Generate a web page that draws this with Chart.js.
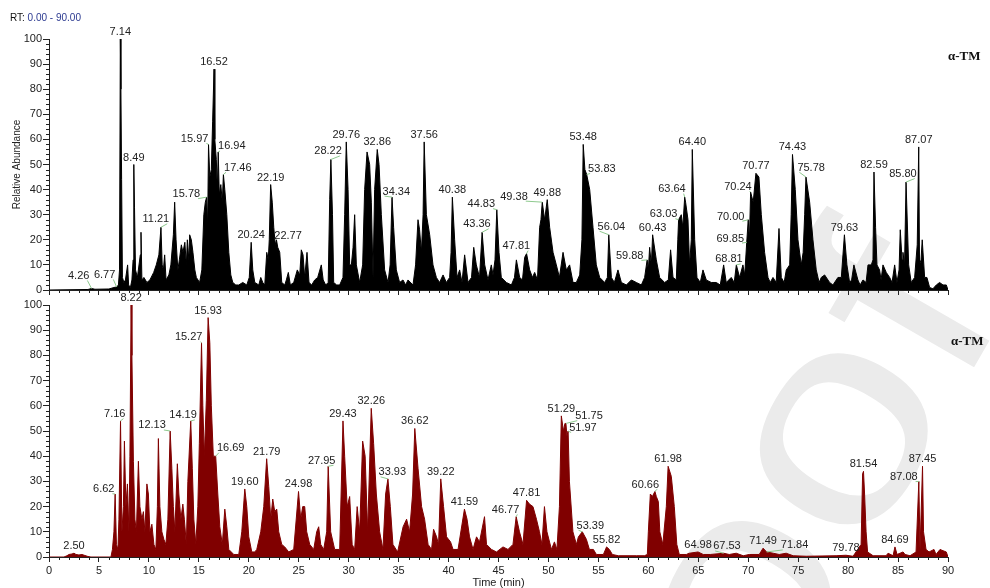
<!DOCTYPE html>
<html>
<head>
<meta charset="utf-8">
<title>RT chromatograms</title>
<script src="https://cdn.jsdelivr.net/npm/chart.js@4.4.1/dist/chart.umd.min.js"></script>
<style>
  html, body { margin: 0; padding: 0; background: #fff; }
  #page { position: relative; width: 990px; height: 588px; overflow: hidden; font-family: "Liberation Sans", Arial, sans-serif; }
  #page canvas { position: absolute; left: 0; }
  #mark { top: 0; z-index: 0; }
  #topChart { top: 0; z-index: 1; }
  #bottomChart { top: 290px; z-index: 2; }
  .rt { position: absolute; left: 10px; top: 12px; font-size: 10px; line-height: 12px; color: #111; z-index: 3; }
  .rt span { color: #2b3990; }
  .tag { position: absolute; font: bold 13px/13px "Liberation Serif", "Times New Roman", serif; color: #111; z-index: 3; }
</style>
</head>
<body>
<div id="page">
  <canvas id="mark" width="990" height="588"></canvas>
  <canvas id="topChart" width="990" height="300"></canvas>
  <canvas id="bottomChart" width="990" height="298"></canvas>
  <div class="rt">RT: <span>0.00 - 90.00</span></div>
  <div class="tag" style="left:948px; top:49px;">α-TM</div>
  <div class="tag" style="left:951px; top:334px;">α-TM</div>
</div>
<script>
// retention time (min), relative abundance (%)
const topTrace = [
  [0,0],[3.9,0.2],[4.26,0.6],[4.6,0.3],[6.0,0.4],[6.5,1],[6.77,1.2],[6.95,2],[7.06,8],[7.14,100],[7.2,80],[7.27,44],[7.35,5],
  [7.5,3],[7.65,4],[7.87,10],[7.97,2],[8.15,1],[8.3,4],[8.42,12],[8.49,50],[8.56,33],[8.66,8],[8.85,5],[9.14,14],[9.21,23],
  [9.3,4],[9.5,5],[9.8,3],[10.1,4],[10.48,7],[10.74,10],[11.0,14],[11.21,25],[11.33,10],[11.45,8],[11.58,14],[11.72,4],
  [12.0,6],[12.2,10],[12.45,22],[12.58,35],[12.72,20],[12.9,8],[13.05,12],[13.25,18],[13.41,15],[13.6,19],[13.75,10],
  [13.85,20],[14.0,12],[14.08,22],[14.25,20],[14.41,15],[14.6,8],[14.75,5],[15.08,3],[15.3,8],[15.5,30],[15.65,35],
  [15.78,37],[15.88,25],[15.97,58],[16.1,45],[16.25,48],[16.38,67],[16.52,88],[16.6,60],[16.75,52],[16.85,40],[16.94,55],
  [17.05,38],[17.2,42],[17.35,35],[17.46,46],[17.6,40],[17.8,30],[18.0,15],[18.2,6],[18.4,3],[18.7,2],[19.0,2],[19.4,3],
  [19.8,2],[20.05,5],[20.24,19],[20.4,8],[20.6,3],[21.0,2],[21.2,5],[21.4,3],[21.6,2],[21.8,15],[21.95,12],[22.05,20],
  [22.19,42],[22.35,35],[22.5,25],[22.65,18],[22.77,20],[22.9,17],[23.1,15],[23.3,3],[23.6,2],[23.76,4],[23.96,7],[24.16,2],
  [24.5,3],[24.86,8],[25.1,6],[25.26,16],[25.43,14],[25.6,5],[25.83,15],[26.03,3],[26.3,2],[26.6,4],[26.9,5],[27.26,10],
  [27.45,4],[27.7,2],[27.95,3],[28.1,36],[28.22,52],[28.38,30],[28.5,3],[28.8,2],[29.1,2],[29.43,5],[29.6,30],[29.76,59],
  [29.94,40],[30.1,10],[30.27,10],[30.44,17],[30.6,30],[30.77,10],[31.1,3],[31.4,10],[31.6,40],[31.84,55],[32.1,50],
  [32.27,35],[32.44,5],[32.6,40],[32.86,56],[33.04,50],[33.27,30],[33.6,8],[33.94,3],[34.15,10],[34.34,37],[34.5,25],
  [34.77,8],[35.1,3],[35.44,4],[35.7,2],[35.94,4],[36.44,2],[36.7,10],[36.94,28],[37.1,24],[37.28,15],[37.45,30],[37.56,59],
  [37.78,30],[38.11,22],[38.44,10],[38.78,5],[39.1,3],[39.45,6],[39.78,3],[40.11,5],[40.25,15],[40.38,37],[40.61,20],
  [40.85,5],[41.11,8],[41.35,3],[41.61,14],[41.95,3],[42.3,5],[42.52,17],[42.78,10],[43.1,5],[43.36,23],[43.62,10],
  [43.95,4],[44.28,10],[44.45,6],[44.65,12],[44.83,32],[45.05,15],[45.28,5],[45.79,3],[46.29,2],[46.6,5],[46.79,12],
  [47.12,5],[47.4,4],[47.62,13],[47.81,14.5],[48.12,8],[48.4,5],[48.62,7],[48.9,4],[49.12,25],[49.25,28],[49.38,35],
  [49.62,28],[49.88,36],[50.12,25],[50.46,15],[50.79,10],[51.1,5],[51.46,15],[51.79,8],[52.12,10],[52.46,3],[52.79,3],
  [53.13,6],[53.35,20],[53.48,58],[53.65,48],[53.83,46],[54.13,40],[54.46,25],[54.79,10],[55.13,5],[55.63,3],[55.9,5],
  [56.04,22],[56.3,5],[56.6,3],[56.96,8],[57.3,3],[57.8,2],[58.3,4],[58.8,3],[59.3,2],[59.63,5],[59.88,12],[60.0,8],
  [60.13,17],[60.3,10],[60.43,22],[60.8,12],[61.13,5],[61.63,3],[62.0,4],[62.23,16],[62.47,5],[62.8,4],[62.95,20],
  [63.03,28],[63.3,30],[63.45,25],[63.64,37],[63.73,35],[63.97,28],[64.13,10],[64.3,20],[64.40,56],[64.64,20],[64.87,5],
  [65.2,3],[65.47,8],[65.8,4],[66.3,3],[66.8,3],[67.2,2],[67.54,10],[67.8,3],[68.3,5],[68.6,3],[68.81,10],[69.14,5],
  [69.47,10],[69.65,6],[69.85,19],[70.00,28],[70.12,20],[70.24,39],[70.5,35],[70.77,46.5],[71.07,45],[71.31,30],[71.64,15],
  [71.98,5],[72.2,3],[72.48,5],[72.8,3],[73.08,24.5],[73.31,5],[73.6,3],[73.81,8],[74.15,10],[74.3,30],[74.43,54],
  [74.71,40],[74.98,20],[75.31,10],[75.5,15],[75.65,30],[75.78,45],[76.15,35],[76.48,20],[76.81,8],[77.1,3],[77.31,5],
  [77.65,6],[78.15,3],[78.48,2],[78.98,5],[79.32,5],[79.63,22],[79.88,10],[80.15,3],[80.35,4],[80.58,10],[80.98,4],
  [81.2,2],[81.49,4],[81.8,3],[81.99,10],[82.32,10],[82.49,12],[82.59,47],[82.75,25],[82.89,10],[83.15,8],[83.3,4],
  [83.49,10],[83.82,7],[84.16,5],[84.4,3],[84.66,10],[84.89,3],[85.1,8],[85.22,24],[85.4,12],[85.49,15],[85.65,10],
  [85.80,43],[86.06,10],[86.32,3],[86.66,5],[86.92,18],[87.07,57],[87.15,10],[87.3,12],[87.42,20],[87.66,5],[87.89,5],
  [88.16,1],[88.49,0.5],[88.83,2],[89.16,3],[89.5,2],[89.83,2],[90,0]
];

const bottomTrace = [
  [0,0],[1.5,0],[1.8,0.5],[2.0,1],[2.3,1.2],[2.5,1.5],[2.7,1],[3.0,0.8],[3.3,1],[3.6,0.6],[3.9,0.2],[4.2,0],[6.2,0],
  [6.35,3],[6.5,10],[6.62,25],[6.75,5],[6.9,3],[7.0,15],[7.16,54],[7.3,10],[7.45,20],[7.55,46],[7.7,20],[7.85,29],[8.0,10],
  [8.1,40],[8.22,100],[8.3,80],[8.45,38],[8.6,15],[8.75,10],[8.95,38],[9.1,20],[9.3,15],[9.45,18],[9.6,10],[9.8,29],
  [9.95,25],[10.1,10],[10.3,13],[10.5,5],[10.7,3],[10.85,20],[10.95,47],[11.1,20],[11.3,10],[11.5,7],[11.7,5],[11.9,15],
  [12.13,50],[12.3,35],[12.45,20],[12.6,10],[12.85,37],[13.0,25],[13.2,15],[13.4,21],[13.55,15],[13.75,5],[13.9,30],
  [14.19,54],[14.35,35],[14.5,15],[14.7,5],[14.9,20],[15.05,45],[15.27,85],[15.4,60],[15.55,40],[15.75,62],[15.93,95],
  [16.1,85],[16.25,60],[16.45,40],[16.69,40],[16.9,25],[17.1,12],[17.35,5],[17.6,19],[17.8,12],[18.0,3],[18.5,1],[19.0,1],
  [19.3,10],[19.6,27],[19.8,20],[20.0,8],[20.3,2],[20.6,2],[20.8,3],[21.2,10],[21.5,20],[21.79,39],[22.0,28],[22.2,15],
  [22.4,23],[22.6,18],[22.8,19],[23.0,10],[23.3,5],[23.6,4],[24.0,2],[24.5,3],[24.98,26],[25.2,15],[25.4,20],[25.6,20],
  [25.8,10],[26.1,5],[26.5,3],[26.8,10],[27.0,12],[27.2,5],[27.5,3],[27.8,10],[27.95,36],[28.2,10],[28.6,3],[29.1,3],
  [29.43,54],[29.6,40],[29.85,20],[30.1,24],[30.35,5],[30.6,3],[30.85,20],[31.1,10],[31.4,46],[31.65,40],[31.9,10],
  [32.26,59],[32.5,45],[32.77,25],[33.1,10],[33.43,3],[33.7,25],[33.93,31],[34.17,20],[34.43,5],[34.9,2],[35.45,12],
  [35.8,15],[36.1,10],[36.4,25],[36.62,51],[36.95,35],[37.3,20],[37.6,15],[37.95,5],[38.3,3],[38.5,11],[38.8,8],[39.0,5],
  [39.22,31],[39.5,20],[39.8,8],[40.2,6],[40.45,3],[40.95,3],[41.59,19],[41.85,15],[42.1,8],[42.45,3],[42.8,8],[43.1,6],
  [43.6,16],[43.8,5],[44.3,3],[44.8,2],[45.45,4],[45.95,3],[46.45,5],[46.77,16],[47.1,10],[47.45,5],[47.81,22.5],[48.1,21],
  [48.45,20],[48.8,15],[49.1,10],[49.35,5],[49.6,20],[49.85,10],[50.3,3],[50.6,6],[50.85,3],[51.1,20],[51.29,56],[51.5,50],
  [51.65,53],[51.75,53],[51.85,48],[51.97,50],[52.1,30],[52.45,10],[52.8,5],[53.0,8],[53.39,10],[53.8,7],[54.1,3],[54.5,3],
  [54.8,1],[55.5,1],[55.82,4],[56.1,3],[56.4,1],[57.0,0.5],[58.8,0.5],[59.6,0.5],[59.9,1],[60.0,10],[60.2,25],[60.4,24],
  [60.66,26],[60.8,24],[61.0,22],[61.15,10],[61.45,5],[61.8,20],[61.98,36],[62.3,32],[62.6,20],[62.85,5],[63.1,1],[63.8,1],
  [64.1,1.5],[64.98,2],[65.5,1],[66.2,1],[67.53,1.5],[68.1,1],[68.8,1.5],[69.5,0.5],[70.1,1],[71.1,1],[71.49,3.5],[71.84,2],
  [72.5,1.5],[73.1,1],[73.8,1.5],[74.5,0.5],[75.8,0.3],[78.8,0.5],[79.78,0.7],[80.5,0.3],[81.3,5],[81.45,33],[81.54,34],
  [81.65,25],[81.8,10],[81.95,2],[82.5,0.5],[83.8,0.5],[84.0,1.5],[84.5,0.5],[84.69,4],[84.9,1],[85.5,2],[85.7,1],[86.2,0.5],
  [86.8,2],[87.08,30],[87.2,3],[87.45,36],[87.55,10],[87.8,3],[88.1,2],[88.6,3],[88.8,1],[89.2,3],[89.5,2.5],[89.83,2],[90,0]
];

// labelled peaks (retention times)
const topPeaks = [4.26, 6.77, 7.14, 8.49, 11.21, 15.78, 15.97, 16.52, 16.94, 17.46, 20.24, 22.19, 22.77, 28.22, 29.76,
  32.86, 34.34, 37.56, 40.38, 43.36, 44.83, 47.81, 49.38, 49.88, 53.48, 53.83, 56.04, 59.88, 60.43, 63.03, 63.64, 64.40,
  68.81, 69.85, 70.00, 70.24, 70.77, 74.43, 75.78, 79.63, 82.59, 85.80, 87.07];
const bottomPeaks = [2.50, 6.62, 7.16, 8.22, 12.13, 14.19, 15.27, 15.93, 16.69, 19.60, 21.79, 24.98, 27.95, 29.43, 32.26,
  33.93, 36.62, 39.22, 41.59, 46.77, 47.81, 51.29, 51.75, 51.97, 53.39, 55.82, 60.66, 61.98, 64.98, 67.53, 71.49, 71.84,
  79.78, 81.54, 84.69, 87.08, 87.45];

// labels pushed aside from their peak: rt -> [label centre (min), label baseline (%)]
const topMoved = {
  4.26: [2.97, 4.4], 6.77: [5.57, 4.8], 11.21: [10.7, 27], 15.78: [13.75, 37], 15.97: [14.58, 59], 16.94: [18.3, 56],
  17.46: [18.9, 47.5], 22.77: [23.93, 20.5], 28.22: [27.94, 54], 34.34: [34.77, 38], 43.36: [42.84, 25], 44.83: [43.28, 33],
  47.81: [46.79, 16.3], 49.38: [46.55, 36], 53.83: [55.35, 47], 56.04: [56.3, 24], 59.88: [58.13, 12.4], 63.03: [61.53, 29],
  63.64: [62.36, 39], 68.81: [68.07, 11], 69.85: [68.2, 19.3], 70.00: [68.24, 28], 70.24: [68.97, 40], 75.78: [76.3, 47.5],
  85.80: [85.49, 45]
};
const bottomMoved = {
  6.62: [5.48, 25.7], 7.16: [6.58, 55.5], 12.13: [10.32, 51], 14.19: [13.42, 55], 15.27: [13.98, 86], 16.69: [18.19, 42],
  27.95: [27.3, 37], 33.93: [34.37, 32.4], 46.77: [45.71, 17.5], 51.75: [54.06, 54.7], 51.97: [53.45, 50], 53.39: [54.19, 11.2],
  60.66: [59.7, 27.5], 67.53: [67.87, 3], 71.84: [74.64, 3.4], 87.08: [85.58, 30.5]
};

const xTicks = [0, 90, 5];   // min, max, step
const yTicks = [0, 100, 10];

const FONT = '"Liberation Sans", Arial, sans-serif';
const INK = '#222';

// small ticks between the labelled ones
const minorTicks = {
  id: 'minorTicks',
  afterDraw(chart) {
    const { ctx, chartArea, scales: { x, y } } = chart;
    ctx.save();
    ctx.strokeStyle = INK;
    ctx.lineWidth = 1;
    ctx.beginPath();
    for (let t = xTicks[0] + 1; t < xTicks[1]; t++) {
      if (t % xTicks[2] === 0) continue;
      const px = Math.round(x.getPixelForValue(t)) + 0.5;
      ctx.moveTo(px, chartArea.bottom);
      ctx.lineTo(px, chartArea.bottom + 3);
    }
    for (let v = yTicks[0] + 2; v < yTicks[1]; v += 2) {
      if (v % yTicks[2] === 0) continue;
      const py = Math.round(y.getPixelForValue(v)) + 0.5;
      ctx.moveTo(chartArea.left - 3, py);
      ctx.lineTo(chartArea.left, py);
    }
    ctx.stroke();
    ctx.restore();
  }
};

// retention time labels over the peaks, green leader when moved aside
const peakLabels = {
  id: 'peakLabels',
  afterDatasetsDraw(chart, args, opts) {
    const { ctx, scales: { x, y } } = chart;
    const pts = chart.data.datasets[0].data;
    ctx.save();
    ctx.font = '11px ' + FONT;
    ctx.textAlign = 'center';
    ctx.textBaseline = 'alphabetic';
    opts.peaks.forEach(rt => {
      let best = pts[0];
      pts.forEach(p => { if (Math.abs(p.x - rt) < Math.abs(best.x - rt)) best = p; });
      const px = x.getPixelForValue(rt);
      const py = y.getPixelForValue(best.y);
      const text = rt.toFixed(2);
      const moved = opts.moved[rt.toFixed(2)] || opts.moved[rt];
      let lx = px, ly = py - 4;
      if (moved) {
        lx = x.getPixelForValue(moved[0]);
        ly = y.getPixelForValue(moved[1]);
        const w = ctx.measureText(text).width;
        const sx = px > lx ? lx + w / 2 - 2 : lx - w / 2 + 2;
        ctx.strokeStyle = '#8ec98e';
        ctx.lineWidth = 1;
        ctx.beginPath();
        ctx.moveTo(sx, ly + 1.5);
        ctx.lineTo(px, py);
        ctx.stroke();
      }
      ctx.fillStyle = INK;
      ctx.fillText(text, lx, ly);
    });
    ctx.restore();
  }
};

function panel(canvasId, trace, color, peaks, moved, bottomAxis) {
  return new Chart(document.getElementById(canvasId), {
    type: 'line',
    data: {
      datasets: [{
        data: trace.map(p => ({ x: p[0], y: p[1] })),
        borderColor: color,
        backgroundColor: color,
        borderWidth: 1,
        fill: 'origin',
        tension: 0,
        pointRadius: 0
      }]
    },
    options: {
      responsive: false,
      animation: false,
      layout: { padding: { top: bottomAxis ? 15 : 39, right: 42, left: 0, bottom: 0 } },
      plugins: {
        legend: { display: false },
        tooltip: { enabled: false },
        peakLabels: { peaks: peaks, moved: moved }
      },
      scales: {
        x: {
          type: 'linear', min: xTicks[0], max: xTicks[1],
          ticks: { stepSize: xTicks[2], display: bottomAxis, autoSkip: false, maxRotation: 0, padding: 2, color: INK, font: { size: 11, family: FONT } },
          grid: { drawOnChartArea: false, drawTicks: true, tickLength: 5, color: INK },
          border: { display: true, color: INK, width: 1 },
          title: { display: bottomAxis, text: 'Time (min)', color: INK, font: { size: 11, family: FONT }, padding: { top: 0, bottom: -2 } },
          afterFit: s => { s.height = bottomAxis ? 31 : 10; }
        },
        y: {
          min: yTicks[0], max: yTicks[1],
          ticks: { stepSize: yTicks[2], autoSkip: false, padding: 1, color: INK, font: { size: 11, family: FONT } },
          grid: { drawOnChartArea: false, drawTicks: true, tickLength: 6, color: INK },
          border: { display: true, color: INK, width: 1 },
          title: { display: !bottomAxis, text: 'Relative Abundance', color: INK, font: { size: 10, family: FONT }, padding: { top: 11, bottom: 0 } },
          afterFit: s => { s.width = 49; }
        }
      }
    },
    plugins: [minorTicks, peakLabels]
  });
}

panel('topChart', topTrace, '#000000', topPeaks, topMoved, false);
panel('bottomChart', bottomTrace, '#800000', bottomPeaks, bottomMoved, true);

// faint "Journal Pre-proof" stamp behind the traces
(function () {
  const ctx = document.getElementById('mark').getContext('2d');
  const size = 290;
  const stretch = 1.2;
  const angle = -60 * Math.PI / 180;
  ctx.font = size + 'px ' + FONT;
  ctx.fillStyle = '#ebebeb';
  // centre of the second "o" sits near (845, 440)
  const lead = (ctx.measureText('Journal Pre-pro').width + ctx.measureText('o').width / 2) * stretch;
  const up = -0.26 * size;
  const cx = 845, cy = 440;
  const ox = cx - (lead * Math.cos(angle) - up * Math.sin(angle));
  const oy = cy - (lead * Math.sin(angle) + up * Math.cos(angle));
  ctx.translate(ox, oy);
  ctx.rotate(angle);
  ctx.scale(stretch, 1);
  ctx.fillText('Journal Pre-proof', 0, 0);
})();
</script>
</body>
</html>
